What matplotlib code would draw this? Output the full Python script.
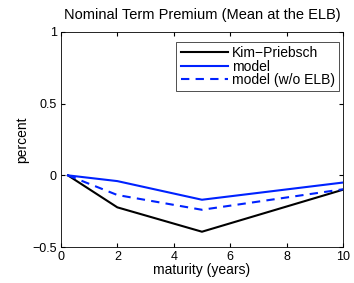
import matplotlib
matplotlib.use("Agg")
import matplotlib.pyplot as plt

# maturities (years)
maturity = [0.25, 2, 5, 10]

# mean nominal term premium at the ELB (percent)
kim_priebsch = [0.0, -0.223, -0.393, -0.10]
model = [0.0, -0.04, -0.17, -0.05]
model_no_elb = [0.0, -0.137, -0.24, -0.097]

plt.rcParams["font.family"] = ["Liberation Sans", "DejaVu Sans"]

fig = plt.figure(figsize=(3.54, 2.83), dpi=100)
ax = fig.add_axes([0.172, 0.127, 0.797, 0.76])

ax.plot(maturity, kim_priebsch, color="black", linewidth=1.5, label="Kim\u2212Priebsch")
ax.plot(maturity, model, color="#0022ff", linewidth=1.5, label="model")
ax.plot(maturity, model_no_elb, color="#0022ff", linewidth=1.5,
        linestyle=(0, (4, 3)), label="model (w/o ELB)")

ax.set_xlim(0, 10)
ax.set_ylim(-0.5, 1)
ax.set_xticks([0, 2, 4, 6, 8, 10])
ax.set_yticks([-0.5, 0, 0.5, 1])
ax.set_yticklabels(["\u22120.5", "0", "0.5", "1"])
ax.tick_params(direction="in", top=True, right=True, labelsize=9, length=3, pad=3)
for s in ax.spines.values():
    s.set_linewidth(0.6)

ax.set_title("Nominal Term Premium (Mean at the ELB)", fontsize=10.5, pad=9)
ax.set_xlabel("maturity (years)", fontsize=10, labelpad=0)
ax.set_ylabel("percent", fontsize=10, labelpad=2)

leg = ax.legend(loc="upper right", bbox_to_anchor=(0.986, 0.953), fontsize=10,
                frameon=True, fancybox=False, edgecolor="black", handlelength=3.4,
                borderaxespad=0, labelspacing=-0.05, borderpad=0.3,
                handletextpad=0.3)
leg.get_frame().set_linewidth(0.6)

fig.savefig("out.png", dpi=100)
